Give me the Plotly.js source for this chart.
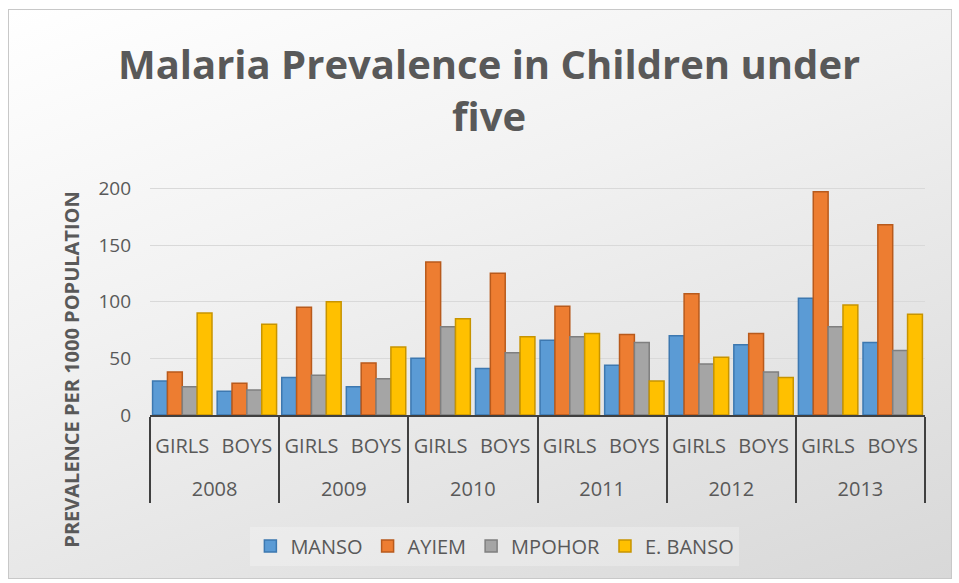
<!DOCTYPE html>
<html>
<head>
<meta charset="utf-8">
<script src="https://cdn.plot.ly/plotly-3.0.1.min.js"></script>
<style>
  html, body { margin: 0; padding: 0; background: #ffffff; }
  #wrap { position: absolute; left: 8px; top: 9px; width: 942px; height: 568px;
          border: 1px solid #c8c8c8;
          background: linear-gradient(160deg, #ffffff 0%, #f1f1f1 40%, #d8d8d8 100%); }
  #chart { position: absolute; left: -9px; top: -10px; width: 959px; height: 583px; }
</style>
</head>
<body>
<div id="wrap"><div id="chart"></div></div>
<script>
const years = ["2008","2008","2009","2009","2010","2010","2011","2011","2012","2012","2013","2013"];
const sexes = ["GIRLS","BOYS","GIRLS","BOYS","GIRLS","BOYS","GIRLS","BOYS","GIRLS","BOYS","GIRLS","BOYS"];
const manso   = [30, 21, 33, 25, 50, 41, 66, 44, 70, 62, 103, 64];
const ayiem   = [38, 28, 95, 46, 135, 125, 96, 71, 107, 72, 197, 168];
const mpohor  = [25, 22, 35, 32, 78, 55, 69, 64, 45, 38, 78, 57];
const ebanso  = [90, 80, 100, 60, 85, 69, 72, 30, 51, 33, 97, 89];
const seriesNames = ["MANSO", "AYIEM", "MPOHOR", "E. BANSO"];
const yTicks = [0, 50, 100, 150, 200];

// inner-level labels get an empty second line so the year row sits lower, as in the source
const sexLabels = sexes.map(s => s + "<br> ");

const colors = ["#5B9BD5", "#ED7D31", "#A5A5A5", "#FFC000"];
const edges  = ["#3d78b0", "#b85a1c", "#7f7f7f", "#c79400"];
const data = [manso, ayiem, mpohor, ebanso].map((vals, i) => ({
  type: "bar",
  name: seriesNames[i],
  x: [years, sexLabels],
  y: vals,
  marker: { color: colors[i], line: { color: edges[i], width: 1.5 } }
}));

const font = "Open Sans, Noto Sans, sans-serif";
const layout = {
  width: 959, height: 583,
  paper_bgcolor: "rgba(0,0,0,0)",
  plot_bgcolor: "rgba(0,0,0,0)",
  margin: { l: 150, r: 34, t: 185, b: 168 },
  font: { family: font, color: "#595959" },
  title: {
    text: "<b>Malaria Prevalence in Children under<br>five</b>",
    font: { family: font, size: 40, color: "#595959" },
    x: 0.51, xanchor: "center", y: 0.865, yanchor: "middle"
  },
  barmode: "group",
  bargap: 0.08,
  bargroupgap: 0,
  xaxis: {
    type: "multicategory",
    showline: true, linecolor: "#404040", linewidth: 2,
    showdividers: true, dividercolor: "#404040", dividerwidth: 2,
    tickfont: { family: font, size: 20, color: "#595959" },
    ticklabelstandoff: 12,
    ticks: "", showgrid: false
  },
  yaxis: {
    range: [0, 203],
    tickvals: yTicks,
    ticktext: yTicks.map(String),
    showgrid: true, gridcolor: "#d9d9d9", gridwidth: 1,
    zeroline: false, showline: false,
    ticks: "", ticklen: 0,
    ticklabelstandoff: 18,
    tickfont: { family: font, size: 19, color: "#595959" }
  },
  legend: {
    orientation: "h",
    x: 0.445, xanchor: "center",
    y: -0.57, yanchor: "middle",
    bgcolor: "rgba(255,255,255,0.25)",
    font: { family: font, size: 20, color: "#595959" },
    itemwidth: 30
  },
  annotations: [{
    text: "<b>PREVALENCE PER 1000 POPULATION</b>",
    textangle: -90,
    xref: "paper", yref: "paper",
    x: -0.101, y: 0.196, xanchor: "center", yanchor: "middle",
    showarrow: false,
    font: { family: font, size: 20, color: "#595959" }
  }]
};

Plotly.newPlot("chart", data, layout, { displayModeBar: false, staticPlot: true });
</script>
</body>
</html>
